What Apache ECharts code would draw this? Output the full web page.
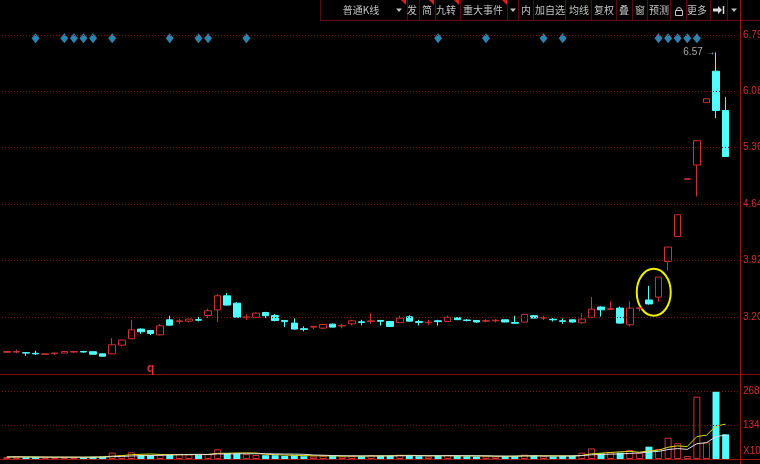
<!DOCTYPE html>
<html><head><meta charset="utf-8">
<script src="https://cdn.jsdelivr.net/npm/echarts@6/dist/echarts.min.js"></script>
<style>html,body{margin:0;padding:0;background:#000;overflow:hidden}#c{width:760px;height:464px}</style>
</head><body><div id="c"></div>
<script>
// ---------------- data ----------------
const categories = Array.from({length: 77}, (_, i) => 'D' + (i + 1));
const opens = [
  2.755, 2.758, 2.750, 2.742, 2.728, 2.738, 2.745, 2.758, 2.765, 2.762,
  2.735, 2.735, 2.846, 2.927, 3.050, 3.032, 2.977, 3.168, 3.145, 3.151,
  3.170, 3.223, 3.295, 3.473, 3.380, 3.195, 3.200, 3.260, 3.223, 3.160,
  3.126, 3.055, 3.075, 3.062, 3.113, 3.090, 3.117, 3.142, 3.145, 3.160,
  3.147, 3.134, 3.206, 3.145, 3.130, 3.155, 3.147, 3.195, 3.165, 3.160,
  3.150, 3.155, 3.168, 3.134, 3.139, 3.220, 3.190, 3.175, 3.155, 3.168,
  3.130, 3.199, 3.330, 3.300, 3.317, 3.105, 3.310, 3.420, 3.457, 3.910,
  4.228, 4.955, 5.136, 5.930, 6.330, 5.830];
const closes = [
  2.765, 2.765, 2.745, 2.735, 2.735, 2.745, 2.765, 2.765, 2.758, 2.730,
  2.705, 2.850, 2.910, 3.040, 3.016, 2.995, 3.092, 3.100, 3.155, 3.177,
  3.163, 3.283, 3.473, 3.355, 3.200, 3.205, 3.253, 3.220, 3.159, 3.145,
  3.050, 3.045, 3.085, 3.108, 3.075, 3.095, 3.155, 3.135, 3.155, 3.150,
  3.084, 3.190, 3.151, 3.135, 3.138, 3.145, 3.200, 3.170, 3.160, 3.140,
  3.157, 3.162, 3.140, 3.124, 3.236, 3.190, 3.197, 3.168, 3.148, 3.140,
  3.177, 3.304, 3.295, 3.310, 3.126, 3.317, 3.320, 3.370, 3.711, 4.093,
  4.504, 4.961, 5.445, 5.980, 5.830, 5.245];
const lows = [
  2.750, 2.745, 2.710, 2.720, 2.720, 2.720, 2.745, 2.745, 2.750, 2.725,
  2.700, 2.730, 2.830, 2.920, 2.990, 2.974, 2.970, 3.095, 3.117, 3.134,
  3.147, 3.190, 3.139, 3.350, 3.190, 3.164, 3.195, 3.190, 3.147, 3.075,
  3.045, 3.020, 3.050, 3.050, 3.070, 3.060, 3.097, 3.100, 3.117, 3.095,
  3.080, 3.130, 3.145, 3.095, 3.100, 3.095, 3.140, 3.165, 3.147, 3.130,
  3.134, 3.134, 3.134, 3.117, 3.134, 3.185, 3.165, 3.147, 3.117, 3.134,
  3.120, 3.190, 3.210, 3.290, 3.120, 3.083, 3.274, 3.360, 3.400, 3.795,
  4.220, 4.955, 4.736, 5.930, 5.733, 5.245];
const highs = [
  2.770, 2.790, 2.755, 2.774, 2.740, 2.750, 2.770, 2.774, 2.774, 2.765,
  2.740, 2.935, 2.915, 3.168, 3.060, 3.040, 3.113, 3.219, 3.177, 3.180,
  3.206, 3.308, 3.495, 3.508, 3.393, 3.240, 3.260, 3.270, 3.240, 3.160,
  3.187, 3.084, 3.090, 3.117, 3.120, 3.117, 3.168, 3.168, 3.250, 3.165,
  3.150, 3.220, 3.227, 3.168, 3.168, 3.168, 3.220, 3.200, 3.177, 3.165,
  3.177, 3.177, 3.170, 3.220, 3.240, 3.227, 3.220, 3.190, 3.185, 3.170,
  3.250, 3.457, 3.340, 3.400, 3.337, 3.400, 3.337, 3.600, 3.711, 4.093,
  4.504, 4.961, 5.445, 5.980, 6.570, 6.000];
const volumes = [
  80, 90, 70, 75, 60, 65, 80, 70, 70, 85,
  95, 250, 158, 264, 158, 158, 158, 158, 203, 180,
  158, 190, 382, 225, 225, 190, 158, 150, 150, 120,
  150, 110, 100, 130, 120, 100, 120, 110, 150, 130,
  130, 170, 140, 110, 100, 120, 160, 120, 110, 100,
  110, 100, 110, 120, 170, 130, 110, 100, 120, 130,
  250, 420, 225, 264, 250, 355, 250, 485, 395, 840,
  620, 118, 2457, 658, 2654, 974];
const eventDays = [3, 6, 7, 8, 9, 11, 17, 20, 21, 25, 45, 50, 56, 58, 68, 69, 70, 71, 72];
const eventLevel = 6.75;
const priceTicks = [3.20, 3.92, 4.64, 5.36, 6.08, 6.79];
const priceTickLabels = ['3.20', '3.92', '4.64', '5.36', '6.08', '6.79'];
const volTicks = [1341, 2682];
const volTickLabels = ['1341', '2682'];
const volUnitLabel = 'X100';
const highMark = {index: 74, value: 6.57};
const circled = {from: 67, to: 68, low: 3.219, high: 3.817};
const noteMark = {index: 15, value: 2.54, text: 'q'};
const toolbarItems = [
  ['普通K线', 361], ['发', 412], ['简', 427], ['九转', 446], ['重大事件', 483],
  ['内', 526], ['加自选', 550], ['均线', 579], ['复权', 604], ['叠', 624],
  ['窗', 640], ['预测', 659], ['更多', 697]];

// ---------------- style ----------------
const RED = '#cc3333', CYAN = '#54fcfc', GRIDRED = '#7a1414', AXISRED = '#8c1818';
const LBL = '#d03030';

function movingAvg(arr, n) {
  return arr.map((_, i) => {
    const s = Math.max(0, i - n + 1);
    let sum = 0; for (let k = s; k <= i; k++) sum += arr[k];
    return +(sum / (i - s + 1)).toFixed(1);
  });
}

const candleData = opens.map((o, i) => [o, closes[i], lows[i], highs[i]]);
const volData = volumes.map((v, i) => ({
  value: v,
  itemStyle: closes[i] >= opens[i]
    ? {color: 'rgba(0,0,0,0)', borderColor: RED, borderWidth: 1}
    : {color: CYAN, borderColor: CYAN, borderWidth: 0}
}));

const chart = echarts.init(document.getElementById('c'), null, {renderer: 'canvas'});

function tb() {
  const g = [];
  const F = '10px "Noto Sans CJK SC"';
  g.push({type: 'line', shape: {x1: 320, y1: 20.5, x2: 760, y2: 20.5}, style: {stroke: '#6a0c0c', lineWidth: 1}});
  [320.5, 407.5, 419.5, 435.5, 460.5, 507.5, 518.5, 533.5, 565.5, 591.5, 616.5, 632.5, 647.5, 670.5, 686.5, 710.5, 727.5].forEach(x =>
    g.push({type: 'line', shape: {x1: x, y1: 0, x2: x, y2: 20}, style: {stroke: '#5a0a0a', lineWidth: 1}}));
  toolbarItems.forEach(([t, x]) => g.push({type: 'text', x: x, y: 10,
    style: {text: t, fill: '#c4c4c4', font: F, align: 'center', verticalAlign: 'middle'}}));
  [399, 513, 734].forEach(x => g.push({type: 'polygon', shape: {points: [[x - 3, 8.5], [x + 3, 8.5], [x, 12]]}, style: {fill: '#bdbdbd'}}));
  [406, 434, 459, 507].forEach(x => g.push({type: 'polygon', shape: {points: [[x - 5, 0], [x, 0], [x, 5]]}, style: {fill: '#e02020'}}));
  g.push({type: 'rect', shape: {x: 675.5, y: 10.5, width: 7, height: 5}, style: {stroke: '#c4c4c4', fill: 'none', lineWidth: 1}});
  g.push({type: 'arc', shape: {cx: 679, cy: 10, r: 2.5, startAngle: Math.PI, endAngle: 2 * Math.PI, clockwise: true}, style: {stroke: '#c4c4c4', fill: 'none', lineWidth: 1}});
  g.push({type: 'polygon', shape: {points: [[713, 8.5], [718, 8.5], [718, 6], [722, 10], [718, 14], [718, 11.5], [713, 11.5]]}, style: {fill: '#dcdcdc'}});
  g.push({type: 'line', shape: {x1: 723.5, y1: 6, x2: 723.5, y2: 14}, style: {stroke: '#dcdcdc', lineWidth: 1.5}});
  g.push({type: 'line', shape: {x1: 740.5, y1: 0, x2: 740.5, y2: 464}, style: {stroke: AXISRED, lineWidth: 1}});
  g.push({type: 'line', shape: {x1: 0, y1: 374.5, x2: 760, y2: 374.5}, style: {stroke: '#800c0c', lineWidth: 1}});
  g.push({type: 'line', shape: {x1: 0, y1: 459.5, x2: 760, y2: 459.5}, style: {stroke: '#a01414', lineWidth: 1}});
  g.push({type: 'text', x: 743, y: 451, style: {text: volUnitLabel, fill: LBL, font: '10px "Liberation Sans"', verticalAlign: 'middle'}});
  return g;
}

const option = {
  backgroundColor: '#000',
  animation: false,
  grid: [
    {left: 2, right: 20, top: 20, height: 355},
    {left: 2, right: 20, top: 375, height: 84}
  ],
  xAxis: [
    {type: 'category', data: categories, gridIndex: 0, boundaryGap: true, show: false},
    {type: 'category', data: categories, gridIndex: 1, boundaryGap: true, show: false}
  ],
  yAxis: [
    {type: 'value', gridIndex: 0, min: 2.466, max: 6.981, show: false, splitLine: {show: false}},
    {type: 'value', gridIndex: 1, min: 0, max: 3313, show: false, splitLine: {show: false}}
  ],
  series: [
    {
      type: 'candlestick', xAxisIndex: 0, yAxisIndex: 0, data: candleData, barWidth: 7,
      itemStyle: {color: 'rgba(0,0,0,0)', borderColor: RED, color0: CYAN, borderColor0: CYAN, borderWidth: 1},
      markLine: {
        silent: true, symbol: 'none', animation: false,
        lineStyle: {color: GRIDRED, type: [1, 2], width: 1},
        label: {show: true, position: 'end', distance: 3, color: LBL, fontSize: 10, fontFamily: 'Liberation Sans'},
        data: priceTicks.map((v, i) => ({yAxis: v, label: {formatter: priceTickLabels[i]}}))
      }
    },
    {
      type: 'scatter', xAxisIndex: 0, yAxisIndex: 0, symbol: 'diamond', symbolSize: [8, 10],
      itemStyle: {color: '#3aa2da'}, data: eventDays.map(d => [d, eventLevel])
    },
    {
      type: 'scatter', xAxisIndex: 0, yAxisIndex: 0, symbol: 'circle', symbolSize: 1,
      itemStyle: {color: 'rgba(0,0,0,0)'},
      label: {show: true, position: 'left', distance: 0, color: '#d0d0d0', fontSize: 10, fontFamily: 'Liberation Sans',
        formatter: p => p.value[1].toFixed(2) + ' →'},
      data: [[highMark.index, highMark.value]]
    },
    {
      type: 'bar', xAxisIndex: 1, yAxisIndex: 1, data: volData, barWidth: 7,
      markLine: {
        silent: true, symbol: 'none', animation: false,
        lineStyle: {color: GRIDRED, type: [1, 2], width: 1},
        label: {show: true, position: 'end', distance: 3, color: LBL, fontSize: 10, fontFamily: 'Liberation Sans'},
        data: volTicks.map((v, i) => ({yAxis: v, label: {formatter: volTickLabels[i]}}))
      }
    },
    {type: 'line', xAxisIndex: 1, yAxisIndex: 1, data: movingAvg(volumes, 5), symbol: 'none',
      lineStyle: {color: '#d8d800', width: 1}},
    {type: 'line', xAxisIndex: 1, yAxisIndex: 1, data: movingAvg(volumes, 10), symbol: 'none',
      lineStyle: {color: '#e0e0e0', width: 1}}
  ],
  graphic: tb()
};
chart.setOption(option);

const pA = chart.convertToPixel({gridIndex: 0}, [circled.from, circled.high]);
const pB = chart.convertToPixel({gridIndex: 0}, [circled.to, circled.low]);
const pQ = chart.convertToPixel({gridIndex: 0}, [noteMark.index, noteMark.value]);
const extra = tb();
extra.push({type: 'ellipse', shape: {cx: (pA[0] + pB[0]) / 2, cy: (pA[1] + pB[1]) / 2, rx: 17, ry: Math.abs(pB[1] - pA[1]) / 2},
  style: {stroke: '#eeee00', fill: 'none', lineWidth: 2}});
extra.push({type: 'text', x: pQ[0], y: pQ[1], style: {text: noteMark.text, fill: '#e03030', font: 'bold 12px "Liberation Sans"', align: 'center', verticalAlign: 'middle'}});
chart.setOption({graphic: extra}, {replaceMerge: ['graphic']});
</script>
</body></html>
